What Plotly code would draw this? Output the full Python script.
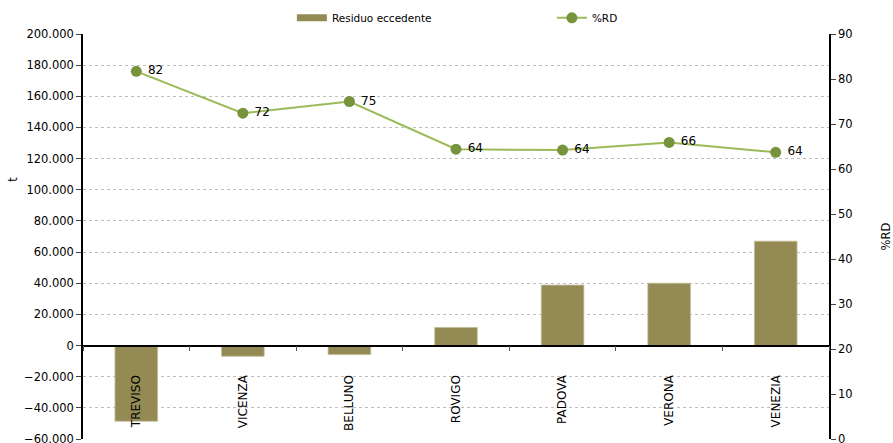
import plotly.graph_objects as go

categories = ["TREVISO", "VICENZA", "BELLUNO", "ROVIGO", "PADOVA", "VERONA", "VENEZIA"]
residuo = [-48600, -6900, -5800, 11600, 38800, 40000, 67000]
rd = [81.7, 72.4, 75.0, 64.4, 64.2, 65.9, 63.7]

y_range = [-60000, 200000]
y2_range = [0, 90]

FONT = "DejaVu Sans"
fs = 11.5
BAR_COLOR = "#948A54"

fig = go.Figure()
fig.add_trace(go.Bar(
    x=categories, y=residuo, name="Residuo eccedente",
    marker=dict(color=BAR_COLOR, line=dict(color="#C4BD97", width=0.8)),
    yaxis="y", xaxis="x", showlegend=False,
))
# legend swatch drawn as a wide rectangle like the reference
fig.add_trace(go.Scatter(
    x=[None], y=[None], name="Residuo eccedente", mode="lines",
    line=dict(color=BAR_COLOR, width=7), yaxis="y", xaxis="x",
))
fig.add_trace(go.Scatter(
    x=categories, y=rd, name="%RD", mode="lines+markers+text",
    line=dict(color="#9BBB59", width=2),
    marker=dict(color="#77933C", size=11),
    texttemplate=" %{y:.0f}", textposition="middle right",
    textfont=dict(family=FONT, size=12, color="#000000"),
    yaxis="y2", xaxis="x",
))

zero_pos = (0 - y_range[0]) / (y_range[1] - y_range[0])
plot_w = 893 - 83 - 64

fig.update_layout(
    width=893, height=443,
    margin=dict(l=83, r=64, t=34, b=4, autoexpand=False),
    paper_bgcolor="white", plot_bgcolor="white",
    font=dict(family=FONT, size=fs, color="#000000"),
    separators=",.",
    bargap=0.6,
    showlegend=True,
    legend=dict(orientation="h", x=0.28, xanchor="left", y=1.04, yanchor="middle",
                entrywidth=215, entrywidthmode="pixels",
                font=dict(family=FONT, size=10.5), bgcolor="rgba(0,0,0,0)"),
    xaxis=dict(
        anchor="free", position=zero_pos, automargin=False,
        showline=True, linecolor="#000000", linewidth=1.5,
        ticks="outside", tickson="boundaries", ticklen=5, tickcolor="#555555",
        tickangle=-90, ticklabelstandoff=24,
        showgrid=False, zeroline=False,
        tickfont=dict(family=FONT, size=12),
    ),
    yaxis=dict(
        range=y_range, dtick=20000, tickformat=",d", automargin=False,
        ticklabeloverflow="allow",
        showline=True, linecolor="#000000", linewidth=1.5,
        ticks="outside", ticklen=5,
        showgrid=True, gridcolor="#BFBFBF", griddash="dot", gridwidth=1,
        zeroline=False,
    ),
    yaxis2=dict(
        range=y2_range, dtick=10, overlaying="y", side="right", automargin=False,
        ticklabeloverflow="allow",
        showline=True, linecolor="#000000", linewidth=1.5,
        ticks="outside", ticklen=5,
        showgrid=False, zeroline=False,
        title=dict(text="%RD", standoff=56, font=dict(family=FONT, size=fs)),
    ),
    annotations=[dict(
        text="t", textangle=-90, xref="paper", yref="paper",
        x=-70 / plot_w, y=0.64, xanchor="center", yanchor="middle",
        showarrow=False, font=dict(family=FONT, size=fs, color="#000000"),
    )],
)

fig.write_html("out.html", config={"displayModeBar": False},
               post_script="document.body.style.margin='0';")
